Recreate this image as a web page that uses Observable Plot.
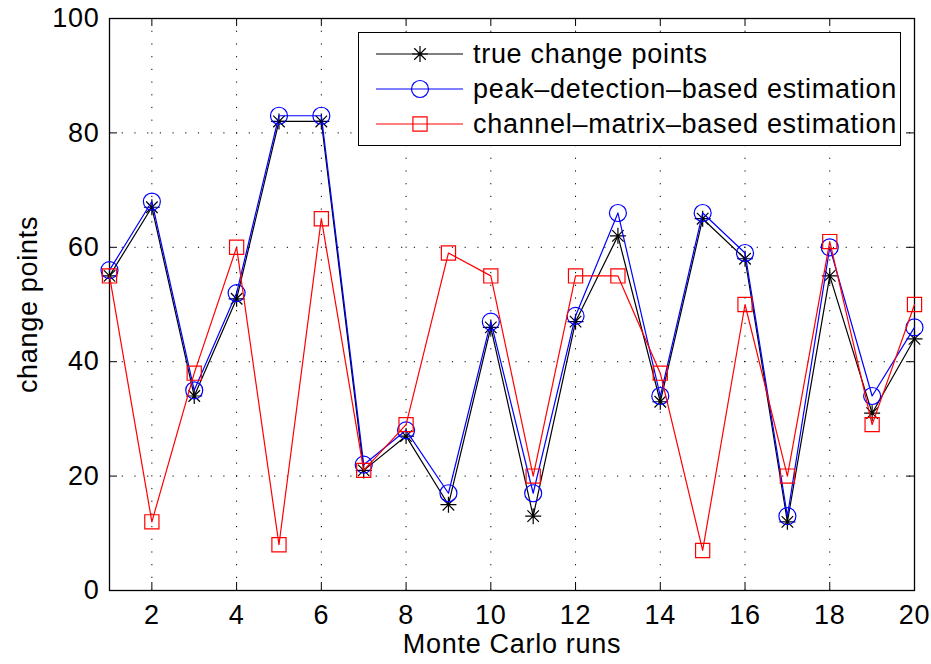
<!DOCTYPE html>
<html><head><meta charset="utf-8">
<script src="https://cdn.jsdelivr.net/npm/d3@7"></script>
<script src="https://cdn.jsdelivr.net/npm/@observablehq/plot@0.6"></script>
<style>
body{margin:0;background:#fff;}
#wrap{position:relative;width:931px;height:664px;font-family:"Liberation Sans",Arial,Helvetica,sans-serif;}
#legend{position:absolute;left:358px;top:32px;width:543px;height:114px;border:1.3px solid #000;background:#fff;box-sizing:border-box;}
#legend svg{position:absolute;left:-1.3px;top:-1.3px;}
</style></head><body><div id="wrap"></div>
<script>
const runs = [1,2,3,4,5,6,7,8,9,10,11,12,13,14,15,16,17,18,19,20];
const trueCP = [55,67,34,51,82,82,21,27,15,46,13,47,62,33,65,58,12,55,31,44];
const peakEst = [56,68,35,52,83,83,22,28,17,47,17,48,66,34,66,59,13,60,34,46];
const channelEst = [55,12,38,60,8,65,21,29,59,55,20,55,55,38,7,50,20,61,29,50];
const xTicks = [2,4,6,8,10,12,14,16,18,20];
const yTicks = [0,20,40,60,80,100];
const seriesNames = ["true change points","peak\u2013detection\u2013based estimation","channel\u2013matrix\u2013based estimation"];
const seriesValues = [trueCP, peakEst, channelEst];
const seriesColors = ["#000000","#0000ff","#ff0000"];
const seriesR = [8, 8.5, 8];

// MATLAB-style 8-spoke asterisk
const starSymbol = {
  draw(context, size) {
    const r = Math.sqrt(size / Math.PI), d = r * 0.72;
    context.moveTo(0, -r); context.lineTo(0, r);
    context.moveTo(-r, 0); context.lineTo(r, 0);
    context.moveTo(-d, -d); context.lineTo(d, d);
    context.moveTo(-d, d); context.lineTo(d, -d);
  }
};
const seriesSymbols = [starSymbol, d3.symbolCircle, d3.symbolSquare];

const W = 931, H = 664, mL = 109, mR = 17, mT = 18, mB = 74;
const fh = H - mT - mB, fw = W - mL - mR, tickLen = 8;
const FONT = '"Liberation Sans", Arial, Helvetica, sans-serif';

const seriesData = seriesNames.map((name, i) => runs.map((r, j) => ({run: r, value: seriesValues[i][j], series: name})));

const grid = {stroke: "#000", strokeOpacity: 1, strokeWidth: 1, strokeDasharray: "1.2,11.5"};
const marks = [
  Plot.gridX(xTicks, grid),
  Plot.gridY(yTicks, grid),
  Plot.tickX(xTicks, {x: d => d, insetTop: fh - tickLen, stroke: "#000"}),
  Plot.tickX(xTicks, {x: d => d, insetBottom: fh - tickLen, stroke: "#000"}),
  Plot.tickY(yTicks, {y: d => d, insetRight: fw - tickLen, stroke: "#000"}),
  Plot.tickY(yTicks, {y: d => d, insetLeft: fw - tickLen, stroke: "#000"}),
  Plot.axisX(xTicks, {tickSize: 0, tickPadding: 14, label: null, fill: "#000"}),
  Plot.axisY(yTicks, {tickSize: 0, tickPadding: 10, label: null, fill: "#000"}),
  Plot.frame({stroke: "#000", strokeWidth: 1.3})
];
seriesData.forEach((data, i) => {
  marks.push(Plot.line(data, {x: "run", y: "value", stroke: seriesColors[i], strokeWidth: 1.2}));
  marks.push(Plot.dot(data, {x: "run", y: "value", symbol: seriesSymbols[i], r: seriesR[i], stroke: seriesColors[i], fill: "none", strokeWidth: 1.2}));
});
marks.push(Plot.text(["Monte Carlo runs"], {frameAnchor: "bottom", lineAnchor: "middle", textAnchor: "middle", dy: 54, fontSize: 27, fill: "#000"}));
marks.push(Plot.text(["change points"], {frameAnchor: "left", lineAnchor: "middle", textAnchor: "middle", rotate: -90, dx: -81, fontSize: 27, fill: "#000"}));

const chart = Plot.plot({
  width: W, height: H,
  marginLeft: mL, marginRight: mR, marginTop: mT, marginBottom: mB,
  x: {domain: [1, 20], axis: null},
  y: {domain: [0, 100], axis: null},
  style: {fontSize: "27px", fontFamily: FONT, color: "#000", background: "#fff", letterSpacing: "0.7px"},
  marks
});
const wrap = document.getElementById("wrap");
wrap.appendChild(chart);

// legend overlay
const leg = document.createElement("div");
leg.id = "legend";
wrap.appendChild(leg);
const svg = d3.select(leg).append("svg").attr("width", 543).attr("height", 114);
seriesNames.forEach((name, i) => {
  const cy = 22 + i * 35;
  const g = svg.append("g");
  g.append("line").attr("x1", 18).attr("x2", 105).attr("y1", cy).attr("y2", cy)
    .attr("stroke", seriesColors[i]).attr("stroke-width", 1.2);
  g.append("path").attr("d", d3.symbol(seriesSymbols[i], Math.PI * seriesR[i] * seriesR[i])())
    .attr("transform", `translate(62,${cy})`).attr("fill", "none")
    .attr("stroke", seriesColors[i]).attr("stroke-width", 1.2);
  g.append("text").attr("x", 115).attr("y", cy + 9).text(name)
    .attr("font-size", 27).attr("font-family", FONT).attr("letter-spacing", "0.7px").attr("fill", "#000");
});
</script></body></html>
